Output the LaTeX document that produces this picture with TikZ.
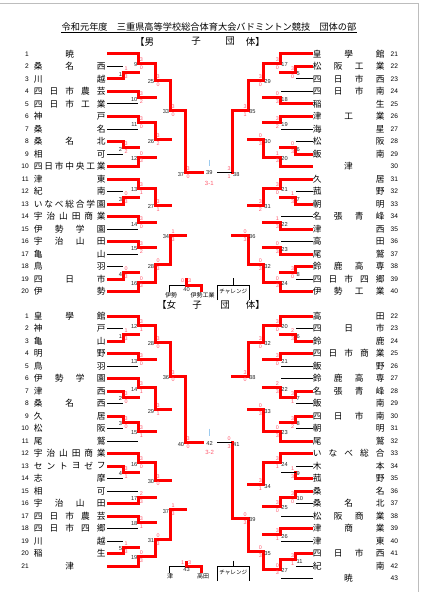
\documentclass[tikz,border=0pt]{standalone}
\usepackage{fontspec}
\setmainfont{Liberation Sans}
\newfontfamily\jpf{Noto Sans CJK JP}
\definecolor{wred}{HTML}{FF0000}
\definecolor{sred}{HTML}{FF5A6E}
\definecolor{lblue}{HTML}{9CCBEF}
\definecolor{framegray}{HTML}{BDBDBD}
\pgfdeclarelayer{bg}
\pgfsetlayers{bg,main}
\def\xla{123}\def\xlb{138.3}\def\xlc{155}\def\xld{170}\def\xle{185}
\def\xra{295.8}\def\xrb{280.5}\def\xrc{263.5}\def\xrd{248.3}\def\xre{232.3}
\tikzset{
 rl/.style={draw=wred,line width=3pt,line cap=rect},
 rt/.style={draw=wred,line width=3pt,line cap=butt},
 bl/.style={draw=black,line width=1pt},
 mnum/.style={font=\fontsize{5.7}{5.7}\selectfont,inner sep=0pt,text=black!85},
 score/.style={font=\fontsize{5.4}{5.4}\selectfont,inner sep=0pt,text=sred},
 tname/.style={font=\jpf\fontsize{8.7}{8.7}\selectfont,inner sep=0pt},
 tnum/.style={font=\fontsize{6.6}{6.6}\selectfont,inner sep=0pt},
 small/.style={font=\jpf\fontsize{6}{6}\selectfont,inner sep=0pt},
}
% left team: prefix, num, y, nchars, chars, xend, style
\newcommand\LT[7]{%
 \node[tnum,anchor=east] (#1n#2) at (29,#3) {#2};
 \ifnum#4=1\relax \node[tname] (#1c#2) at (69.75,#3) {#5};%
 \else \foreach \ch [count=\k] in {#5} {\node[tname] (#1c#2-\k) at ({38.3+(\k-1)*63/(#4-1)},#3) {\ch};}\fi
 \draw[#7] (107,#3) -- (#6,#3);
}
\newcommand\RT[7]{%
 \node[tnum,anchor=west] (#1n#2) at (390.5,#3) {#2};
 \ifnum#4=1\relax \node[tname] (#1c#2) at (348.5,#3) {#5};%
 \else \foreach \ch [count=\k] in {#5} {\node[tname] (#1c#2-\k) at ({317.2+(\k-1)*63/(#4-1)},#3) {\ch};}\fi
 \draw[#7] (312.8,#3) -- (#6,#3);
}
% match: prefix, label, xv, ytop, ybot, xout, winner t/b, score top, score bottom
\newcommand\LM[9]{%
 \pgfmathsetmacro\ym{(#4+#5)/2}%
 \coordinate (#1#2) at (#3,\ym);
 \begin{pgfonlayer}{bg}\draw[bl] (#3,#4) -- (#3,#5);\end{pgfonlayer}
 \if t#7\draw[rl] (#3,#4) -- (#3,\ym);\else\draw[rl] (#3,\ym) -- (#3,#5);\fi
 \draw[rl] (#1#2) -- (#6,\ym);
 \node[mnum,anchor=east] (#1#2l) at (#3-0.7,\ym+1.3) {#2};
 \node[score,anchor=west] (#1#2a) at (#3+1.4,\ym-3.9) {#8};
 \node[score,anchor=west] (#1#2b) at (#3+1.4,\ym+3.9) {#9};
}
\newcommand\RM[9]{%
 \pgfmathsetmacro\ym{(#4+#5)/2}%
 \coordinate (#1#2) at (#3,\ym);
 \begin{pgfonlayer}{bg}\draw[bl] (#3,#4) -- (#3,#5);\end{pgfonlayer}
 \if t#7\draw[rl] (#3,#4) -- (#3,\ym);\else\draw[rl] (#3,\ym) -- (#3,#5);\fi
 \draw[rl] (#1#2) -- (#6,\ym);
 \node[mnum,anchor=west] (#1#2l) at (#3+0.7,\ym+1.3) {#2};
 \node[score,anchor=east] (#1#2a) at (#3-1.4,\ym-3.9) {#8};
 \node[score,anchor=east] (#1#2b) at (#3-1.4,\ym+3.9) {#9};
}
\begin{document}
\begin{tikzpicture}[x=1pt,y=-1pt]
\useasboundingbox (0,0) rectangle (423,599);
\fill[white] (0,0) rectangle (423,599);
\draw[framegray,line width=0.8pt] (0,3) -- (418,3) -- (418,592);
% titles
\node[inner sep=0pt,font=\jpf\fontsize{9.2}{9.2}\selectfont] (title) at (209,27) {令和元年度　三重県高等学校総合体育大会バドミントン競技　団体の部};
\draw[line width=0.6pt] ([yshift=-1.6pt]title.base west) -- ([yshift=-1.6pt]title.base east);
\node[inner sep=0pt,font=\jpf\fontsize{9.5}{9.5}\selectfont,anchor=west] (hm1) at (135,41.5) {【男};
\node[inner sep=0pt,font=\jpf\fontsize{9.5}{9.5}\selectfont] (hm2) at (196,41.5) {子};
\node[inner sep=0pt,font=\jpf\fontsize{9.5}{9.5}\selectfont] (hm3) at (230,41.5) {団};
\node[inner sep=0pt,font=\jpf\fontsize{9.5}{9.5}\selectfont,anchor=east] (hm4) at (265,41.5) {体】};
\node[inner sep=0pt,font=\jpf\fontsize{9.5}{9.5}\selectfont,anchor=west] (hf1) at (157,305) {【女};
\node[inner sep=0pt,font=\jpf\fontsize{9.5}{9.5}\selectfont] (hf2) at (197,305) {子};
\node[inner sep=0pt,font=\jpf\fontsize{9.5}{9.5}\selectfont] (hf3) at (225,305) {団};
\node[inner sep=0pt,font=\jpf\fontsize{9.5}{9.5}\selectfont,anchor=east] (hf4) at (265,305) {体】};
% ===== male teams left
\LT{m}{1}{54}{1}{暁}{\xlb}{rt}
\LT{m}{2}{66.5}{3}{桑,名,西}{\xla}{bl}
\LT{m}{3}{79}{2}{川,越}{\xla}{rt}
\LT{m}{4}{91.5}{5}{四,日,市,農,芸}{\xlb}{rt}
\LT{m}{5}{104}{5}{四,日,市,工,業}{\xlb}{bl}
\LT{m}{6}{116.5}{2}{神,戸}{\xlb}{rt}
\LT{m}{7}{129}{2}{桑,名}{\xlb}{bl}
\LT{m}{8}{141.5}{3}{桑,名,北}{\xla}{rt}
\LT{m}{9}{154}{2}{相,可}{\xla}{bl}
\LT{m}{10}{166.5}{7}{四,日,市,中,央,工,業}{\xlb}{rt}
\LT{m}{11}{179}{2}{津,東}{\xlb}{rt}
\LT{m}{12}{191.5}{2}{紀,南}{\xla}{bl}
\LT{m}{13}{204}{7}{い,な,べ,総,合,学,園}{\xla}{rt}
\LT{m}{14}{216.5}{6}{宇,治,山,田,商,業}{\xlb}{rt}
\LT{m}{15}{229}{4}{伊,勢,学,園}{\xlb}{bl}
\LT{m}{16}{241.5}{4}{宇,治,山,田}{\xlb}{rt}
\LT{m}{17}{254}{2}{亀,山}{\xlb}{bl}
\LT{m}{18}{266.5}{2}{鳥,羽}{\xla}{bl}
\LT{m}{19}{279}{3}{四,日,市}{\xla}{rt}
\LT{m}{20}{291.5}{2}{伊,勢}{\xlb}{rt}
% male teams right
\RT{m}{21}{54}{3}{皇,學,館}{\xrb}{rt}
\RT{m}{22}{66.5}{4}{松,阪,工,業}{\xra}{rt}
\RT{m}{23}{79}{4}{四,日,市,西}{\xra}{bl}
\RT{m}{24}{91.5}{4}{四,日,市,南}{\xrb}{bl}
\RT{m}{25}{104}{2}{稲,生}{\xrb}{rt}
\RT{m}{26}{116.5}{3}{津,工,業}{\xrb}{rt}
\RT{m}{27}{129}{2}{海,星}{\xrb}{bl}
\RT{m}{28}{141.5}{2}{松,阪}{\xra}{bl}
\RT{m}{29}{154}{2}{飯,南}{\xra}{rt}
\RT{m}{30}{166.5}{1}{津}{\xrb}{rt}
\RT{m}{31}{179}{2}{久,居}{\xrb}{rt}
\RT{m}{32}{191.5}{2}{菰,野}{\xra}{bl}
\RT{m}{33}{204}{2}{朝,明}{\xra}{rt}
\RT{m}{34}{216.5}{4}{名,張,青,峰}{\xrb}{bl}
\RT{m}{35}{229}{2}{津,西}{\xrb}{rt}
\RT{m}{36}{241.5}{2}{高,田}{\xrb}{bl}
\RT{m}{37}{254}{2}{尾,鷲}{\xrb}{rt}
\RT{m}{38}{266.5}{4}{鈴,鹿,高,専}{\xra}{rt}
\RT{m}{39}{279}{5}{四,日,市,四,郷}{\xra}{bl}
\RT{m}{40}{291.5}{4}{伊,勢,工,業}{\xrb}{rt}
% ===== female teams left
\LT{f}{1}{316}{3}{皇,學,館}{\xlb}{rt}
\LT{f}{2}{328.5}{2}{神,戸}{\xla}{bl}
\LT{f}{3}{341}{2}{亀,山}{\xla}{rt}
\LT{f}{4}{353.5}{2}{明,野}{\xlb}{rt}
\LT{f}{5}{366}{2}{鳥,羽}{\xlb}{bl}
\LT{f}{6}{378.5}{4}{伊,勢,学,園}{\xlb}{rt}
\LT{f}{7}{391}{2}{津,西}{\xla}{rt}
\LT{f}{8}{403.5}{3}{桑,名,西}{\xla}{bl}
\LT{f}{9}{416}{2}{久,居}{\xla}{rt}
\LT{f}{10}{428.5}{2}{松,阪}{\xla}{bl}
\LT{f}{11}{441}{2}{尾,鷲}{\xlb}{bl}
\LT{f}{12}{453.5}{6}{宇,治,山,田,商,業}{\xlb}{rt}
\LT{f}{13}{466}{6}{セ,ン,ト,ヨ,ゼ,フ}{\xla}{rt}
\LT{f}{14}{478.5}{2}{志,摩}{\xla}{bl}
\LT{f}{15}{491}{2}{相,可}{\xlb}{bl}
\LT{f}{16}{503.5}{4}{宇,治,山,田}{\xlb}{rt}
\LT{f}{17}{516}{5}{四,日,市,農,芸}{\xlb}{rt}
\LT{f}{18}{528.5}{5}{四,日,市,四,郷}{\xlb}{bl}
\LT{f}{19}{541}{2}{川,越}{\xla}{bl}
\LT{f}{20}{553.5}{2}{稲,生}{\xla}{rt}
\LT{f}{21}{566}{1}{津}{\xlb}{rt}
% female teams right
\RT{f}{22}{316}{2}{高,田}{\xrb}{rt}
\RT{f}{23}{328.5}{3}{四,日,市}{\xra}{bl}
\RT{f}{24}{341}{2}{鈴,鹿}{\xra}{rt}
\RT{f}{25}{353.5}{5}{四,日,市,商,業}{\xrb}{rt}
\RT{f}{26}{366}{2}{飯,野}{\xrb}{bl}
\RT{f}{27}{378.5}{4}{鈴,鹿,高,専}{\xrb}{bl}
\RT{f}{28}{391}{4}{名,張,青,峰}{\xra}{rt}
\RT{f}{29}{403.5}{2}{飯,南}{\xra}{bl}
\RT{f}{30}{416}{4}{四,日,市,南}{\xra}{rt}
\RT{f}{31}{428.5}{2}{朝,明}{\xra}{bl}
\RT{f}{32}{441}{2}{尾,鷲}{\xrb}{rt}
\RT{f}{33}{453.5}{5}{い,な,べ,総,合}{\xrb}{rt}
\RT{f}{34}{466}{2}{木,本}{\xra}{bl}
\RT{f}{35}{478.5}{2}{菰,野}{\xra}{rt}
\RT{f}{36}{491}{2}{桑,名}{\xra}{rt}
\RT{f}{37}{503.5}{3}{桑,名,北}{\xra}{bl}
\RT{f}{38}{516}{4}{松,阪,商,業}{\xrb}{bl}
\RT{f}{39}{528.5}{3}{津,商,業}{\xrb}{rt}
\RT{f}{40}{541}{2}{津,東}{\xrb}{bl}
\RT{f}{41}{553.5}{4}{四,日,市,西}{\xra}{rt}
\RT{f}{42}{566}{2}{紀,南}{\xra}{bl}
\RT{f}{43}{578.5}{1}{暁}{\xrb}{bl}
% ===== male matches left
\LM{mm}{1}{\xla}{66.5}{79}{\xlb}{b}{1}{3}
\LM{mm}{2}{\xla}{141.5}{154}{\xlb}{t}{3}{2}
\LM{mm}{3}{\xla}{191.5}{204}{\xlb}{b}{0}{3}
\LM{mm}{4}{\xla}{266.5}{279}{\xlb}{b}{0}{3}
\LM{mm}{9}{\xlb}{54}{72.75}{\xlc}{t}{3}{0}
\LM{mm}{10}{\xlb}{91.5}{104}{\xlc}{t}{3}{2}
\LM{mm}{11}{\xlb}{116.5}{129}{\xlc}{t}{3}{0}
\LM{mm}{12}{\xlb}{147.75}{166.5}{\xlc}{b}{0}{3}
\LM{mm}{13}{\xlb}{179}{197.75}{\xlc}{t}{3}{1}
\LM{mm}{14}{\xlb}{216.5}{229}{\xlc}{t}{3}{0}
\LM{mm}{15}{\xlb}{241.5}{254}{\xlc}{t}{3}{2}
\LM{mm}{16}{\xlb}{272.75}{291.5}{\xlc}{b}{0}{3}
\LM{mm}{25}{\xlc}{63.375}{97.75}{\xld}{t}{3}{0}
\LM{mm}{26}{\xlc}{122.75}{157.125}{\xld}{t}{3}{2}
\LM{mm}{27}{\xlc}{188.375}{222.75}{\xld}{t}{3}{1}
\LM{mm}{28}{\xlc}{247.75}{282.125}{\xld}{b}{0}{3}
\LM{mm}{33}{\xld}{80.5625}{139.9375}{\xle}{t}{3}{0}
\LM{mm}{34}{\xld}{205.5625}{264.9375}{\xle}{b}{1}{3}
\LM{mm}{37}{\xle}{110.25}{235.25}{202}{t}{3}{0}
% male matches right
\RM{mm}{5}{\xra}{66.5}{79}{\xrb}{t}{3}{0}
\RM{mm}{6}{\xra}{141.5}{154}{\xrb}{b}{0}{3}
\RM{mm}{7}{\xra}{191.5}{204}{\xrb}{b}{1}{3}
\RM{mm}{8}{\xra}{266.5}{279}{\xrb}{t}{3}{0}
\RM{mm}{17}{\xrb}{54}{72.75}{\xrc}{t}{3}{0}
\RM{mm}{18}{\xrb}{91.5}{104}{\xrc}{b}{0}{3}
\RM{mm}{19}{\xrb}{116.5}{129}{\xrc}{t}{3}{2}
\RM{mm}{20}{\xrb}{147.75}{166.5}{\xrc}{b}{1}{3}
\RM{mm}{21}{\xrb}{179}{197.75}{\xrc}{t}{3}{0}
\RM{mm}{22}{\xrb}{216.5}{229}{\xrc}{b}{1}{3}
\RM{mm}{23}{\xrb}{241.5}{254}{\xrc}{b}{0}{3}
\RM{mm}{24}{\xrb}{272.75}{291.5}{\xrc}{b}{0}{3}
\RM{mm}{29}{\xrc}{63.375}{97.75}{\xrd}{t}{3}{0}
\RM{mm}{30}{\xrc}{122.75}{157.125}{\xrd}{b}{0}{3}
\RM{mm}{31}{\xrc}{188.375}{222.75}{\xrd}{t}{3}{2}
\RM{mm}{32}{\xrc}{247.75}{282.125}{\xrd}{b}{0}{3}
\RM{mm}{35}{\xrd}{80.5625}{139.9375}{\xre}{t}{3}{1}
\RM{mm}{36}{\xrd}{205.5625}{264.9375}{\xre}{b}{0}{3}
\RM{mm}{38}{\xre}{110.25}{235.25}{\xre}{t}{3}{1}
% male final
\coordinate (mfR) at (217,172.75);
\draw[bl] (mfR) -- (mm38);
\draw[lblue,line width=0.8pt] (209.3,159.5) -- (209.3,166);
\node[mnum] (mf39) at (209.3,173) {39};
\node[score,font=\fontsize{6}{6}\selectfont] (mfs) at (209.3,183) {3-1};
% male challenge
\coordinate (mc1) at (169.3,291.8);
\coordinate (mc2) at (169.3,285);
\coordinate (mc3) at (186,285);
\coordinate (mc4) at (186,278.3);
\coordinate (mc5) at (201.7,285);
\coordinate (mc6) at (201.7,291.8);
\draw[bl] (mc1) -- (mc2) -- (mc3);
\draw[rl,line cap=butt] (mc4) -- (mc3) -- (mc5) -- (mc6);
\node[score] (mcsa) at (182.5,281) {0};
\node[score] (mcsb) at (189.5,281) {3};
\node[mnum] (mc40) at (186.5,289.5) {40};
\node[small] (mcn1) at (171,295.7) {伊勢};
\node[small] (mcn2) at (202.5,295.7) {伊勢工業};
\draw[bl] (217.3,300) -- (217.3,285) -- (249.3,285) -- (249.3,300);
\draw[bl] (233.3,278.3) -- (233.3,285);
\node[small,font=\jpf\fontsize{5.6}{5.6}\selectfont] (mch) at (233.3,292) {チャレンジ};
% ===== female matches left
\LM{fm}{1}{\xla}{328.5}{341}{\xlb}{b}{1}{3}
\LM{fm}{2}{\xla}{391}{403.5}{\xlb}{t}{3}{0}
\LM{fm}{3}{\xla}{416}{428.5}{\xlb}{t}{3}{0}
\LM{fm}{4}{\xla}{466}{478.5}{\xlb}{t}{3}{1}
\LM{fm}{5}{\xla}{541}{553.5}{\xlb}{b}{1}{3}
\LM{fm}{12}{\xlb}{316}{334.75}{\xlc}{t}{3}{1}
\LM{fm}{13}{\xlb}{353.5}{366}{\xlc}{t}{3}{0}
\LM{fm}{14}{\xlb}{378.5}{397.25}{\xlc}{t}{3}{1}
\LM{fm}{15}{\xlb}{422.25}{441}{\xlc}{t}{3}{1}
\LM{fm}{16}{\xlb}{453.5}{472.25}{\xlc}{t}{3}{0}
\LM{fm}{17}{\xlb}{491}{503.5}{\xlc}{b}{2}{3}
\LM{fm}{18}{\xlb}{516}{528.5}{\xlc}{t}{3}{1}
\LM{fm}{19}{\xlb}{547.25}{566}{\xlc}{b}{0}{3}
\LM{fm}{28}{\xlc}{325.375}{359.75}{\xld}{t}{3}{0}
\LM{fm}{29}{\xlc}{387.875}{431.625}{\xld}{t}{3}{1}
\LM{fm}{30}{\xlc}{462.875}{497.25}{\xld}{t}{3}{0}
\LM{fm}{31}{\xlc}{522.25}{556.625}{\xld}{b}{0}{3}
\LM{fm}{36}{\xld}{342.5625}{409.75}{\xle}{t}{3}{0}
\LM{fm}{37}{\xld}{480.0625}{539.4375}{\xle}{b}{1}{3}
\LM{fm}{40}{\xle}{376.15625}{509.75}{202}{t}{3}{0}
% female matches right
\RM{fm}{6}{\xra}{328.5}{341}{\xrb}{b}{2}{3}
\RM{fm}{7}{\xra}{391}{403.5}{\xrb}{t}{3}{1}
\RM{fm}{8}{\xra}{416}{428.5}{\xrb}{t}{3}{2}
% match 9: its line towards match 24 stays black
\coordinate (fm9) at (\xra,472.25);
\begin{pgfonlayer}{bg}\draw[bl] (\xra,466) -- (\xra,478.5);\end{pgfonlayer}
\draw[rl] (fm9) -- (\xra,478.5);
\draw[bl] (fm9) -- (\xrb,472.25);
\node[mnum,anchor=west] (fm9l) at (\xra+0.7,473.55) {9};
\node[score,anchor=east] (fm9a) at (\xra-1.4,468.35) {1};
\node[score,anchor=east] (fm9b) at (\xra-1.4,476.15) {3};
\RM{fm}{10}{\xra}{491}{503.5}{\xrb}{t}{3}{0}
\RM{fm}{11}{\xra}{553.5}{566}{\xrb}{t}{3}{1}
\RM{fm}{20}{\xrb}{316}{334.75}{\xrc}{t}{3}{0}
\RM{fm}{21}{\xrb}{353.5}{366}{\xrc}{t}{3}{0}
\RM{fm}{22}{\xrb}{378.5}{397.25}{\xrc}{b}{2}{3}
\RM{fm}{23}{\xrb}{422.25}{441}{\xrc}{b}{0}{3}
\RM{fm}{24}{\xrb}{453.5}{472.25}{\xrc}{t}{3}{1}
\RM{fm}{25}{\xrb}{497.25}{516}{\xrc}{t}{3}{0}
\RM{fm}{26}{\xrb}{528.5}{541}{\xrc}{t}{3}{1}
\RM{fm}{27}{\xrb}{559.75}{578.5}{\xrc}{t}{0}{3}
\RM{fm}{32}{\xrc}{325.375}{359.75}{\xrd}{t}{3}{0}
\RM{fm}{33}{\xrc}{387.875}{431.625}{\xrd}{b}{0}{3}
\RM{fm}{34}{\xrc}{462.875}{506.625}{\xrd}{t}{3}{1}
\RM{fm}{35}{\xrc}{534.75}{569.125}{\xrd}{b}{0}{3}
\RM{fm}{38}{\xrd}{342.5625}{409.75}{\xre}{t}{3}{0}
\RM{fm}{39}{\xrd}{484.75}{551.9375}{\xre}{b}{0}{3}
% female semifinal 41 (junction at the final's height)
\coordinate (fm41) at (\xre,442.95);
\coordinate (fm41b) at (\xre,518.34);
\begin{pgfonlayer}{bg}\draw[bl] (\xre,376.15625) -- (fm41b);\end{pgfonlayer}
\draw[rl] (fm41) -- (fm41b);
\node[mnum,anchor=west] (fm41l) at (\xre+0.7,444.2) {41};
\node[score,anchor=east] (fm41a) at (\xre-1.4,439.05) {0};
\node[score,anchor=east] (fm41s) at (\xre-1.4,446.85) {3};
% female final
\coordinate (ffR) at (217,442.95);
\draw[bl] (ffR) -- (fm41);
\draw[lblue,line width=0.8pt] (209.6,428.5) -- (209.6,435.5);
\node[mnum] (ff42) at (209.6,443.2) {42};
\node[score,font=\fontsize{6}{6}\selectfont] (ffs) at (209.6,452.5) {3-2};
% female challenge
\coordinate (fc1) at (169.3,573);
\coordinate (fc2) at (169.3,566);
\coordinate (fc3) at (186,566);
\coordinate (fc4) at (186,560.7);
\coordinate (fc5) at (201.7,566);
\coordinate (fc6) at (201.7,573);
\draw[bl] (fc1) -- (fc2) -- (fc3);
\draw[rl,line cap=butt] (fc4) -- (fc3) -- (fc5) -- (fc6);
\node[score] (fcsa) at (182.5,562.5) {1};
\node[score] (fcsb) at (189.5,562.5) {3};
\node[mnum] (fc43) at (186.5,570) {43};
\node[small] (fcn1) at (170,576.5) {津};
\node[small] (fcn2) at (203,576.5) {高田};
\draw[bl] (217.3,581) -- (217.3,566) -- (249.3,566) -- (249.3,581);
\draw[bl] (233.3,560.7) -- (233.3,566);
\node[small,font=\jpf\fontsize{5.6}{5.6}\selectfont] (fch) at (233.3,573) {チャレンジ};
\end{tikzpicture}
\end{document}
